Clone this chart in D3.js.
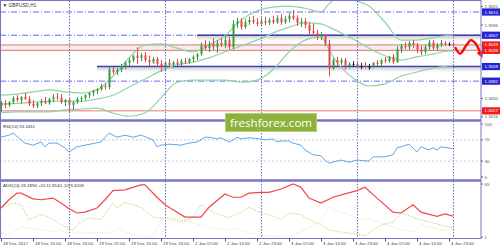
<!DOCTYPE html>
<html>
<head>
<meta charset="utf-8">
<script src="https://cdnjs.cloudflare.com/ajax/libs/d3/7.8.5/d3.min.js"></script>
<style>
body { margin: 0; background: #fff; }
svg { display: block; font-family: "Liberation Sans", Arial, sans-serif; }
</style>
</head>
<body>
<svg id="chart" width="500" height="250"></svg>
<script>
// GBPUSD H1 with bollinger bands, RSI(14) and ADX(14) panels
// bars are hourly, index 0 = 28 Dec 07:00

var ohlc = [
    [1.3436,1.3445,1.3425,1.3441],[1.3441,1.3447,1.3432,1.3438],[1.3438,1.3445,1.3434,1.3443],[1.3443,1.3454,1.3440,1.3451],
    [1.3451,1.3456,1.3443,1.3447],[1.3447,1.3454,1.3440,1.3453],[1.3453,1.3460,1.3447,1.3449],[1.3449,1.3454,1.3436,1.3440],
    [1.3440,1.3447,1.3432,1.3436],[1.3436,1.3443,1.3432,1.3441],[1.3441,1.3449,1.3436,1.3445],[1.3445,1.3453,1.3440,1.3441],
    [1.3441,1.3451,1.3438,1.3449],[1.3449,1.3458,1.3443,1.3453],[1.3453,1.3460,1.3447,1.3451],[1.3451,1.3458,1.3440,1.3443],
    [1.3443,1.3449,1.3436,1.3447],[1.3447,1.3451,1.3423,1.3438],[1.3438,1.3445,1.3429,1.3443],[1.3443,1.3453,1.3440,1.3449],
    [1.3449,1.3454,1.3443,1.3451],[1.3451,1.3458,1.3447,1.3456],[1.3456,1.3462,1.3451,1.3460],[1.3460,1.3466,1.3454,1.3464],
    [1.3464,1.3469,1.3458,1.3467],[1.3467,1.3477,1.3464,1.3473],[1.3473,1.3479,1.3466,1.3471],[1.3471,1.3510,1.3467,1.3503],
    [1.3503,1.3508,1.3495,1.3499],[1.3499,1.3506,1.3493,1.3503],[1.3503,1.3514,1.3499,1.3510],[1.3510,1.3519,1.3504,1.3516],
    [1.3516,1.3525,1.3510,1.3521],[1.3521,1.3530,1.3517,1.3529],[1.3529,1.3545,1.3514,1.3525],[1.3525,1.3534,1.3519,1.3530],
    [1.3530,1.3536,1.3517,1.3521],[1.3521,1.3529,1.3510,1.3517],[1.3517,1.3527,1.3514,1.3523],[1.3523,1.3527,1.3508,1.3514],
    [1.3514,1.3521,1.3499,1.3510],[1.3510,1.3519,1.3503,1.3516],[1.3516,1.3523,1.3508,1.3512],[1.3512,1.3519,1.3506,1.3517],
    [1.3517,1.3523,1.3510,1.3514],[1.3514,1.3523,1.3510,1.3519],[1.3519,1.3525,1.3514,1.3517],[1.3517,1.3525,1.3514,1.3523],
    [1.3523,1.3530,1.3517,1.3527],[1.3527,1.3534,1.3521,1.3532],[1.3532,1.3554,1.3529,1.3549],[1.3549,1.3558,1.3540,1.3543],
    [1.3543,1.3556,1.3536,1.3551],[1.3551,1.3562,1.3540,1.3545],[1.3545,1.3558,1.3534,1.3553],[1.3553,1.3562,1.3545,1.3549],
    [1.3549,1.3566,1.3543,1.3558],[1.3558,1.3564,1.3540,1.3545],[1.3545,1.3595,1.3541,1.3588],[1.3588,1.3599,1.3580,1.3593],
    [1.3593,1.3599,1.3577,1.3582],[1.3582,1.3597,1.3579,1.3591],[1.3591,1.3601,1.3586,1.3595],[1.3595,1.3603,1.3588,1.3591],
    [1.3591,1.3599,1.3584,1.3588],[1.3588,1.3599,1.3584,1.3593],[1.3593,1.3601,1.3586,1.3590],[1.3590,1.3599,1.3586,1.3595],
    [1.3595,1.3603,1.3588,1.3591],[1.3591,1.3604,1.3588,1.3599],[1.3599,1.3606,1.3586,1.3591],[1.3591,1.3603,1.3588,1.3597],
    [1.3597,1.3608,1.3591,1.3603],[1.3603,1.3614,1.3595,1.3599],[1.3599,1.3604,1.3584,1.3590],[1.3590,1.3599,1.3582,1.3593],
    [1.3593,1.3599,1.3580,1.3586],[1.3586,1.3591,1.3569,1.3575],[1.3575,1.3588,1.3566,1.3571],[1.3571,1.3577,1.3558,1.3566],
    [1.3566,1.3573,1.3558,1.3567],[1.3567,1.3569,1.3547,1.3551],[1.3551,1.3558,1.3491,1.3506],[1.3506,1.3525,1.3503,1.3521],
    [1.3521,1.3527,1.3510,1.3516],[1.3516,1.3525,1.3512,1.3521],[1.3521,1.3525,1.3503,1.3510],[1.3510,1.3517,1.3506,1.3514],
    [1.3514,1.3519,1.3508,1.3514],[1.3514,1.3517,1.3506,1.3510],[1.3510,1.3516,1.3504,1.3510],[1.3510,1.3517,1.3506,1.3508],
    [1.3508,1.3514,1.3503,1.3508],[1.3508,1.3517,1.3506,1.3516],[1.3516,1.3521,1.3510,1.3514],[1.3514,1.3523,1.3510,1.3521],
    [1.3521,1.3527,1.3516,1.3519],[1.3519,1.3529,1.3516,1.3527],[1.3527,1.3532,1.3514,1.3517],[1.3517,1.3547,1.3516,1.3541],
    [1.3541,1.3551,1.3534,1.3547],[1.3547,1.3554,1.3541,1.3545],[1.3545,1.3556,1.3540,1.3553],[1.3553,1.3558,1.3543,1.3549],
    [1.3549,1.3553,1.3534,1.3540],[1.3540,1.3547,1.3530,1.3536],[1.3536,1.3549,1.3532,1.3545],[1.3545,1.3558,1.3540,1.3554],
    [1.3554,1.3558,1.3540,1.3543],[1.3543,1.3553,1.3538,1.3549],[1.3549,1.3558,1.3545,1.3553],[1.3553,1.3556,1.3547,1.3551],
    [1.3551,1.3554,1.3547,1.3551],[1.3551,1.3554,1.3545,1.3549]
];

// bollinger bands read every few bars
var bandIdx   = [0,4,8,12,16,20,24,28,32,36,40,44,48,52,56,60,64,68,72,76,80,82,84,88,92,96,100,104,108,112,113];
var bandUpper = [1.3456,1.3458,1.3462,1.3466,1.3462,1.3460,1.3466,1.3491,1.3525,1.3549,1.3551,1.3543,1.3536,1.3549,1.3566,1.3595,1.3612,1.3619,1.3621,1.3617,1.3610,1.3625,1.3636,1.3632,1.3621,1.3591,1.3558,1.3558,1.3562,1.3567,1.3567];
var bandMid   = [1.3440,1.3441,1.3443,1.3445,1.3445,1.3445,1.3449,1.3456,1.3471,1.3486,1.3501,1.3512,1.3517,1.3525,1.3536,1.3547,1.3558,1.3571,1.3582,1.3590,1.3588,1.3582,1.3575,1.3560,1.3543,1.3529,1.3521,1.3527,1.3532,1.3538,1.3538];
var bandLower = [1.3423,1.3425,1.3425,1.3425,1.3429,1.3430,1.3432,1.3423,1.3417,1.3423,1.3451,1.3480,1.3484,1.3484,1.3484,1.3480,1.3484,1.3503,1.3536,1.3558,1.3564,1.3540,1.3517,1.3488,1.3473,1.3477,1.3491,1.3499,1.3506,1.3510,1.3510];

var rsiPts = [[0,75],[2,79],[3,83],[5,70],[6,64],[8,60],[10,66],[11,57],[12,64],[14,64],[16,55],[17,47],[19,57],[21,60],
    [25,66],[27,83],[29,75],[31,79],[33,75],[35,79],[38,70],[39,57],[40,60],[42,62],[45,60],[47,64],[49,66],[51,75],[52,75],
    [54,72],[55,74],[57,66],[58,70],[59,75],[60,72],[62,74],[65,72],[66,70],[68,72],[69,66],[70,68],[72,68],[73,64],[75,60],
    [76,51],[78,42],[80,40],[81,32],[82,26],[84,30],[85,32],[87,28],[89,32],[92,30],[93,38],[96,38],[98,42],[99,55],[100,57],
    [102,62],[104,47],[105,57],[107,51],[108,55],[109,51],[110,57],[113,53.4411]];

var adxPts = [[0,36],[2,46],[4,54],[5,54],[8,47],[10,46],[13,48],[15,42],[17,35],[19,30],[21,31],[24,36],[26,46],[28,57],
    [31,58],[35,64],[36,64],[39,49],[41,40],[43,34],[46,25],[50,25],[52,37],[56,53],[58,49],[60,49],[62,54],[65,55],[67,55],
    [70,59],[73,65],[75,61],[77,48],[80,42],[83,49],[86,53],[89,57],[91,61],[94,48],[98,31],[100,30],[103,40],[105,31],
    [109,26],[111,29],[113,26.1894]];

var plusDiPts = [[0,36],[3,42],[5,40],[7,22],[10,28],[12,25],[15,16],[18,9.5],[20,19],[22,24],[25,22],[28,42],[29,36],
    [31,43],[35,37],[38,25],[40,24],[43,22],[45,19],[48,25],[50,40],[53,31],[57,24],[60,31],[62,37],[65,30],[67,28],[70,22],
    [72,30],[75,28],[77,22],[80,16],[82,9.5],[85,7],[87,6],[90,3.5],[91,2.2],[93,9.5],[95,15.5],[98,19],[100,30],[103,25],
    [105,21.5],[108,18],[110,15.5],[113,11.9144]];

var minusDiPts = [[0,6],[2,3.4],[5,13],[10,9.5],[13,7],[15,9.5],[16,7],[20,7],[23,6],[28,7],[29,12],[31,7],[35,1.5],
    [38,1.2],[40,21.5],[41,25],[43,24],[47,19],[50,15.5],[53,12],[57,9.5],[58,12],[62,6],[65,3.4],[67,2.2],[70,1.2],[73,3.4],
    [75,7],[77,13],[80,21.5],[82,37],[85,30],[87,28],[90,21.5],[92,24],[95,18],[98,13],[100,9.5],[103,7],[105,15.5],[107,13],
    [110,9.5],[113,9.4208]];

// levels drawn on the chart
var dashLevels = [1.3610, 1.3567, 1.3482];
var trendLevels = [1.3567, 1.3509];
var trendStart = [49, 24];
var redLevels = [1.3549, 1.3539, 1.3427];
var blueBoxes = [1.3610, 1.3567, 1.3509, 1.3482];
var priceTicks = [1.3620, 1.3586, 1.3450, 1.3416];
var rsiTicks = [100, 70, 30, 0];
var rsiLevels = [70, 30];
var adxTicks = [65, 1];

// forecast arrow after the last bar
var forecastIdx = [113.5, 114.8, 116.3, 117.5, 118.6, 120];
var forecastVal = [1.3545, 1.3533, 1.3548, 1.3558, 1.3552, 1.3531];

var dayStarts = [17, 41, 65, 89, 113];
var timeIdx = [0, 8, 16, 24, 32, 40, 48, 56, 64, 72, 80, 88, 96, 104, 112];
var timeText = ["28 Dec 2017", "28 Dec 15:00", "28 Dec 23:00", "29 Dec 07:00", "29 Dec 15:00", "29 Dec 23:00",
    "2 Jan 07:00", "2 Jan 15:00", "2 Jan 23:00", "3 Jan 07:00", "3 Jan 15:00", "3 Jan 23:00",
    "4 Jan 07:00", "4 Jan 15:00", "4 Jan 23:00"];

var right = 481, bottom = 238.5;
var frameColor = "#7676c8";

var svg = d3.select("#chart");
var x = d3.scaleLinear().domain([0, 113]).range([1, 453]);
var y = d3.scaleLinear().domain([1.3416, 1.3620]).range([116.8, 6.6]);
var yRsi = d3.scaleLinear().domain([0, 100]).range([177, 124]);
var yAdx = d3.scaleLinear().domain([1, 65]).range([237, 184]);

var defs = svg.append("defs");
function clip(id, y0, y1) {
    defs.append("clipPath").attr("id", id).append("rect")
        .attr("x", 0).attr("y", y0).attr("width", right).attr("height", y1 - y0);
}
clip("clipMain", 1, 119.5);
clip("clipRsi", 122, 179);
clip("clipAdx", 182, 238);

var shade = defs.append("linearGradient").attr("id", "shade").attr("x1", 0).attr("y1", 0).attr("x2", 0).attr("y2", 1);
shade.append("stop").attr("offset", 0).attr("stop-color", "#c8c8c8");
shade.append("stop").attr("offset", 1).attr("stop-color", "#fff").attr("stop-opacity", 0);

defs.append("marker").attr("id", "arrow").attr("viewBox", "0 0 10 10")
    .attr("refX", 5).attr("refY", 5).attr("markerWidth", 3).attr("markerHeight", 3)
    .attr("orient", "auto").append("path").attr("d", "M0,0 L10,5 L0,10 z").attr("fill", "#f01010");

svg.append("rect").attr("width", 500).attr("height", 250).attr("fill", "#fff");

var main = svg.append("g").attr("clip-path", "url(#clipMain)");

// soft grey band round the red lines and under the trend lines
main.append("rect").attr("x", 0).attr("y", y(1.3551)).attr("width", right)
    .attr("height", y(1.3537) - y(1.3551)).attr("fill", "#efefef");
main.selectAll("rect.tshade").data(trendLevels).join("rect")
    .attr("x", (d, i) => x(trendStart[i])).attr("y", d => y(d) + 1)
    .attr("width", (d, i) => right - x(trendStart[i])).attr("height", 6)
    .attr("fill", "url(#shade)");

main.selectAll("line.dash").data(dashLevels).join("line")
    .attr("x1", 0).attr("x2", right).attr("y1", d => y(d)).attr("y2", d => y(d))
    .attr("stroke", "#6a6af0").attr("stroke-width", 1).attr("stroke-dasharray", "6,2,1,2");

main.selectAll("line.red").data(redLevels).join("line")
    .attr("x1", 0).attr("x2", right).attr("y1", d => y(d)).attr("y2", d => y(d))
    .attr("stroke", "#f07474").attr("stroke-width", 1);

main.selectAll("line.trend").data(trendLevels).join("line")
    .attr("x1", (d, i) => x(trendStart[i])).attr("x2", right)
    .attr("y1", d => y(d)).attr("y2", d => y(d))
    .attr("stroke", "#3b3bb0").attr("stroke-width", 1.6);

// day separators over all panels
svg.selectAll("line.day").data(dayStarts).join("line")
    .attr("x1", d => x(d) + 0.5).attr("x2", d => x(d) + 0.5).attr("y1", 1).attr("y2", bottom)
    .attr("stroke", "#6a6ad0").attr("stroke-width", 1).attr("stroke-dasharray", "1.5,1.5");

function bandLine(vals) {
    return d3.line().curve(d3.curveMonotoneX)
        .x((d, i) => x(bandIdx[i])).y(d => y(d))(vals);
}
[bandUpper, bandMid, bandLower].forEach(function (b) {
    main.append("path").attr("d", bandLine(b)).attr("fill", "none")
        .attr("stroke", "#8ed3a6").attr("stroke-width", 1.2);
});

function barColor(d) {
    if (d[3] > d[0]) return "#3b9a3b";
    if (d[3] < d[0]) return "#e8474a";
    return "#222";
}
main.selectAll("rect.wick").data(ohlc).join("rect")
    .attr("x", (d, i) => x(i)).attr("width", 1)
    .attr("y", d => y(d[1])).attr("height", d => y(d[2]) - y(d[1]))
    .attr("fill", barColor);
main.selectAll("rect.body").data(ohlc).join("rect")
    .attr("x", (d, i) => x(i) - 0.5).attr("width", 2)
    .attr("y", d => y(Math.max(d[0], d[3])))
    .attr("height", d => Math.max(1, Math.abs(y(d[0]) - y(d[3]))))
    .attr("fill", barColor);

var fc = forecastIdx.map((d, i) => [d, forecastVal[i]]);
svg.append("path")
    .attr("d", d3.line().curve(d3.curveCatmullRom).x(d => x(d[0])).y(d => y(d[1]))(fc))
    .attr("fill", "none").attr("stroke", "#f01010").attr("stroke-width", 2.4)
    .attr("marker-end", "url(#arrow)");

// RSI panel
var rsi = svg.append("g").attr("clip-path", "url(#clipRsi)");
rsi.selectAll("line.lvl").data(rsiLevels).join("line")
    .attr("x1", 0).attr("x2", right).attr("y1", d => yRsi(d)).attr("y2", d => yRsi(d))
    .attr("stroke", "#c8c8c8").attr("stroke-dasharray", "2,2");
rsi.append("path")
    .attr("d", d3.line().x(d => x(d[0])).y(d => yRsi(d[1]))(rsiPts))
    .attr("fill", "none").attr("stroke", "#5aaaf0").attr("stroke-width", 1);

// ADX panel
var adx = svg.append("g").attr("clip-path", "url(#clipAdx)");
function adxLine(pts) {
    return d3.line().x(d => x(d[0])).y(d => yAdx(d[1]))(pts);
}
adx.append("path").attr("d", adxLine(minusDiPts)).attr("fill", "none")
    .attr("stroke", "#f2d9b5").attr("stroke-width", 1).attr("stroke-dasharray", "1,1.5");
adx.append("path").attr("d", adxLine(plusDiPts)).attr("fill", "none")
    .attr("stroke", "#a9d055").attr("stroke-width", 1).attr("stroke-dasharray", "1,1.5");
adx.append("path").attr("d", adxLine(adxPts)).attr("fill", "none")
    .attr("stroke", "#f04848").attr("stroke-width", 1.2);

// frame and panel separators
svg.append("rect").attr("x", 0.5).attr("y", 0.5).attr("width", right - 0.5).attr("height", bottom - 0.5)
    .attr("fill", "none").attr("stroke", frameColor);
svg.selectAll("line.sep").data([120.5, 180.5]).join("line")
    .attr("x1", 0).attr("x2", right).attr("y1", d => d).attr("y2", d => d)
    .attr("stroke", frameColor).attr("stroke-width", 2.5);

// right hand scale
var fs = "4.4px";
function tickLabels(vals, scale, fmt) {
    var g = svg.append("g");
    g.selectAll("line").data(vals).join("line")
        .attr("x1", right).attr("x2", right + 2).attr("y1", d => scale(d)).attr("y2", d => scale(d))
        .attr("stroke", "#666");
    g.selectAll("text").data(vals).join("text")
        .attr("x", right + 3.5).attr("y", d => scale(d)).attr("dy", "0.35em")
        .attr("font-size", fs).attr("fill", "#555").text(fmt);
}
tickLabels(priceTicks, y, d => d.toFixed(4));
tickLabels(rsiTicks, yRsi, d => d);
tickLabels(adxTicks, yAdx, d => d);

function boxes(vals, color) {
    var g = svg.append("g");
    g.selectAll("rect").data(vals).join("rect")
        .attr("x", right + 1).attr("y", d => y(d) - 3.6).attr("width", 18).attr("height", 7.2)
        .attr("fill", color);
    g.selectAll("text").data(vals).join("text")
        .attr("x", right + 3.5).attr("y", d => y(d)).attr("dy", "0.35em")
        .attr("font-size", fs).attr("fill", "#fff").text(d => d.toFixed(4));
}
boxes(blueBoxes, "#2323d2");
boxes(redLevels, "#f21c1c");

// time axis
var xAxis = d3.axisBottom(x).tickValues(timeIdx).tickFormat((d, i) => timeText[i]).tickSize(3).tickSizeOuter(0);
var ax = svg.append("g").attr("transform", "translate(0," + bottom + ")").call(xAxis);
ax.select(".domain").remove();
ax.selectAll(".tick line").attr("stroke", "#555");
ax.selectAll(".tick text").attr("text-anchor", "start").attr("x", 1.5).attr("y", 3.2)
    .attr("dy", "0.71em").attr("font-size", fs).attr("fill", "#444")
    .attr("font-family", "Liberation Sans, Arial, sans-serif");

// panel captions
svg.append("text").attr("x", 2.5).attr("y", 7).attr("font-size", "4.8px").attr("fill", "#333")
    .text("\u25BC GBPUSD,H1");
svg.append("text").attr("x", 3).attr("y", 127.5).attr("font-size", fs).attr("fill", "#333")
    .text("RSI(14) 53.4411");
svg.append("text").attr("x", 3).attr("y", 187).attr("font-size", fs).attr("fill", "#333")
    .text("ADX(14) 26.1894 +DI:11.9144 -DI:9.4208");

// watermark
svg.append("rect").attr("x", 225.5).attr("y", 113.5).attr("width", 91).attr("height", 18)
    .attr("fill", "#8db33c").attr("stroke", "#b2cf76").attr("stroke-width", 1);
svg.append("text").attr("x", 271).attr("y", 126.5).attr("text-anchor", "middle")
    .attr("font-family", "Open Sans, sans-serif").attr("font-size", "11.5px").attr("fill", "#fff")
    .attr("textLength", 82).text("freshforex.com");
</script>
</body>
</html>
